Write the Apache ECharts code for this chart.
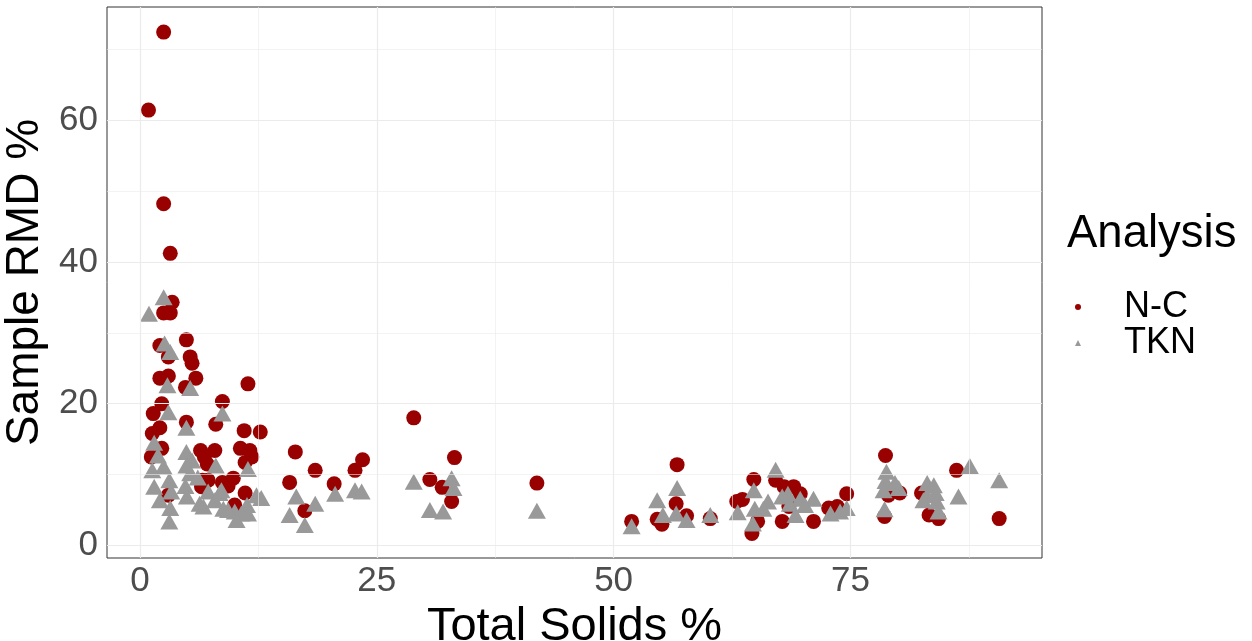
<!DOCTYPE html>
<html>
<head>
<meta charset="utf-8">
<script src="https://cdn.jsdelivr.net/npm/echarts@6/dist/echarts.min.js"></script>
<style>
html,body{margin:0;padding:0;background:#fff;}
#rmdChart{width:1252px;height:641px;}
</style>
</head>
<body>
<div id="rmdChart"></div>
<script>
// Sample RMD vs Total Solids, N-C vs TKN

const ncSolids = [
2.5,0.9,2.5,3.2,3.4,2.5,3.2,4.9,2.1,3.0,5.3,5.5,2.1,3.0,5.9,11.4,4.8,2.3,8.7,1.4,
4.9,8.0,2.1,1.3,11.0,12.7,2.3,1.2,6.4,7.9,10.6,11.6,11.8,6.8,7.1,11.1,16.4,6.6,7.2,8.7,
9.85,9.3,11.1,10.0,3.0,6.5,
15.8,17.4,18.5,20.5,22.7,23.5,28.9,30.6,31.9,33.2,32.9,41.9,
51.9,56.7,56.6,54.6,55.1,57.7,60.2,63.0,63.6,64.8,64.6,65.2,67.1,67.8,68.0,68.5,69.0,69.7,
71.1,72.7,73.6,74.6,78.7,78.6,79.0,80.2,82.5,83.3,84.3,86.2,90.7
];
const ncRmd = [
72.4,61.4,48.2,41.2,34.3,32.8,32.8,29.0,28.2,26.6,26.6,25.7,23.6,23.9,23.6,22.8,22.3,20.0,20.3,18.6,
17.4,17.1,16.6,15.8,16.2,16.0,13.7,12.5,13.4,13.4,13.7,13.4,12.5,12.5,11.5,11.7,13.2,9.2,9.2,8.9,
9.5,8.4,7.4,5.7,7.1,8.3,
8.9,4.9,10.6,8.7,10.6,12.1,18.0,9.3,8.2,12.4,6.2,8.8,
3.4,11.4,5.9,3.7,3.0,4.2,3.8,6.2,6.5,9.3,1.7,3.4,9.2,3.4,8.3,5.5,8.3,7.3,
3.4,5.3,5.5,7.3,12.7,4.1,7.1,7.4,7.4,4.3,3.8,10.6,3.8
];

const tknSolids = [
2.5,0.95,2.6,3.2,2.9,5.3,8.7,3.0,4.9,1.5,1.9,4.9,5.5,1.3,2.5,3.1,1.5,4.9,5.3,4.8,
6.1,3.3,2.1,4.95,6.3,3.2,3.1,8.0,11.4,7.2,8.4,7.9,6.7,8.8,10.0,10.7,11.3,12.3,12.8,10.2,
11.4,9.3,8.6,15.8,16.5,17.4,18.5,20.6,22.7,23.4,28.9,32.9,33.1,30.6,32.0,41.9,
51.9,54.6,56.7,55.2,56.6,57.7,60.2,63.1,64.8,64.9,64.7,66.3,65.8,67.1,67.8,68.4,68.6,69.2,
69.7,70.2,71.1,72.9,73.9,74.6,78.8,78.7,78.5,79.7,80.1,78.6,83.1,83.8,83.1,84.0,82.7,84.1,
84.3,86.4,87.6,90.7
];
const tknRmd = [
35.0,32.7,28.5,27.3,22.6,22.2,18.6,18.8,16.6,14.5,12.7,13.2,12.0,10.6,11.1,9.2,8.3,11.3,10.2,8.4,
9.6,7.6,6.4,6.9,5.9,5.3,3.4,11.3,10.8,7.6,7.4,6.4,5.5,5.2,4.8,4.5,5.7,7.1,6.7,3.6,
4.5,5.0,7.8,4.3,6.9,2.9,5.9,7.3,7.8,7.6,9.0,9.5,8.1,5.0,4.8,4.9,
2.7,6.4,8.1,4.3,4.5,3.6,4.3,4.7,7.8,5.2,3.1,6.2,5.2,10.7,6.9,7.3,5.9,4.3,
6.6,5.7,6.6,4.5,4.8,5.3,10.4,9.1,7.8,8.8,8.1,5.1,8.8,8.5,7.1,7.4,6.4,6.2,
4.8,6.9,11.2,9.2
];

const xTicks = [0,25,50,75];
const xMinor = [12.5,37.5,62.5,87.5];
const yTicks = [0,20,40,60];
const yMinor = [10,30,50,70];

const chartDom = document.getElementById("rmdChart");
const chart = echarts.init(chartDom, null, {renderer:"canvas"});

const fontFam = "Liberation Sans, Arial, sans-serif";

const pairs = (xs, ys) => xs.map((x, i) => [x, ys[i]]);

// ggplot-like panel grid, drawn through the axes' own scales
const gridLines = [
  ...xTicks.map(v => ({xAxis:v, lineStyle:{width:1.2}})),
  ...xMinor.map(v => ({xAxis:v, lineStyle:{width:0.6}})),
  ...yTicks.map(v => ({yAxis:v, lineStyle:{width:1.2}})),
  ...yMinor.map(v => ({yAxis:v, lineStyle:{width:0.6}}))
];

const option = {
  backgroundColor:"#ffffff",
  animation:false,
  grid:{
    left:107,
    top:7,
    width:935,
    height:551,
    show:true,
    backgroundColor:"#ffffff",
    borderColor:"#333333",
    borderWidth:1,
    outerBoundsMode:"none"
  },
  xAxis:{
    type:"value",
    min:-3.48,
    max:95.22,
    axisLine:{show:false},
    splitLine:{show:false},
    axisTick:{
      show:true,
      customValues:xTicks,
      length:4,
      lineStyle:{color:"#333333", width:1}
    },
    axisLabel:{
      customValues:xTicks,
      margin:6,
      color:"#4D4D4D",
      fontSize:35,
      fontFamily:fontFam
    },
    name:"Total Solids %",
    nameLocation:"middle",
    nameGap:36,
    nameTextStyle:{color:"#000000", fontSize:47, fontFamily:fontFam}
  },
  yAxis:{
    type:"value",
    min:-1.76,
    max:75.94,
    axisLine:{show:false},
    splitLine:{show:false},
    axisTick:{
      show:true,
      customValues:yTicks,
      length:4,
      lineStyle:{color:"#333333", width:1}
    },
    axisLabel:{
      customValues:yTicks,
      margin:9,
      color:"#4D4D4D",
      fontSize:35,
      fontFamily:fontFam
    },
    name:"Sample RMD %",
    nameLocation:"middle",
    nameGap:52,
    nameTextStyle:{color:"#000000", fontSize:46, fontFamily:fontFam}
  },
  legend:{
    orient:"vertical",
    left:1075,
    top:289,
    padding:0,
    itemGap:0,
    itemWidth:6,
    itemHeight:6,
    data:[
      {name:"N-C", icon:"circle"},
      {name:"TKN", icon:"triangle"}
    ],
    textStyle:{
      color:"#000000",
      fontSize:36,
      lineHeight:33,
      fontFamily:fontFam,
      padding:[0,0,0,38]
    }
  },
  graphic:[
    {
      type:"text",
      left:1067,
      top:211,
      style:{
        text:"Analysis",
        fill:"#000000",
        font:"45.5px " + fontFam
      }
    }
  ],
  series:[
    {
      name:"grid",
      type:"scatter",
      data:[],
      silent:true,
      z:0,
      markLine:{
        silent:true,
        symbol:"none",
        label:{show:false},
        animation:false,
        lineStyle:{color:"#EBEBEB", type:"solid"},
        data:gridLines
      }
    },
    {
      name:"N-C",
      type:"scatter",
      data:pairs(ncSolids, ncRmd),
      symbol:"circle",
      symbolSize:15,
      itemStyle:{color:"#990000", opacity:1},
      z:2
    },
    {
      name:"TKN",
      type:"scatter",
      data:pairs(tknSolids, tknRmd),
      symbol:"triangle",
      symbolSize:[18,16],
      itemStyle:{color:"#999999", opacity:1},
      z:3
    }
  ]
};

chart.setOption(option);

window.addEventListener("resize", () => chart.resize());
</script>
</body>
</html>
